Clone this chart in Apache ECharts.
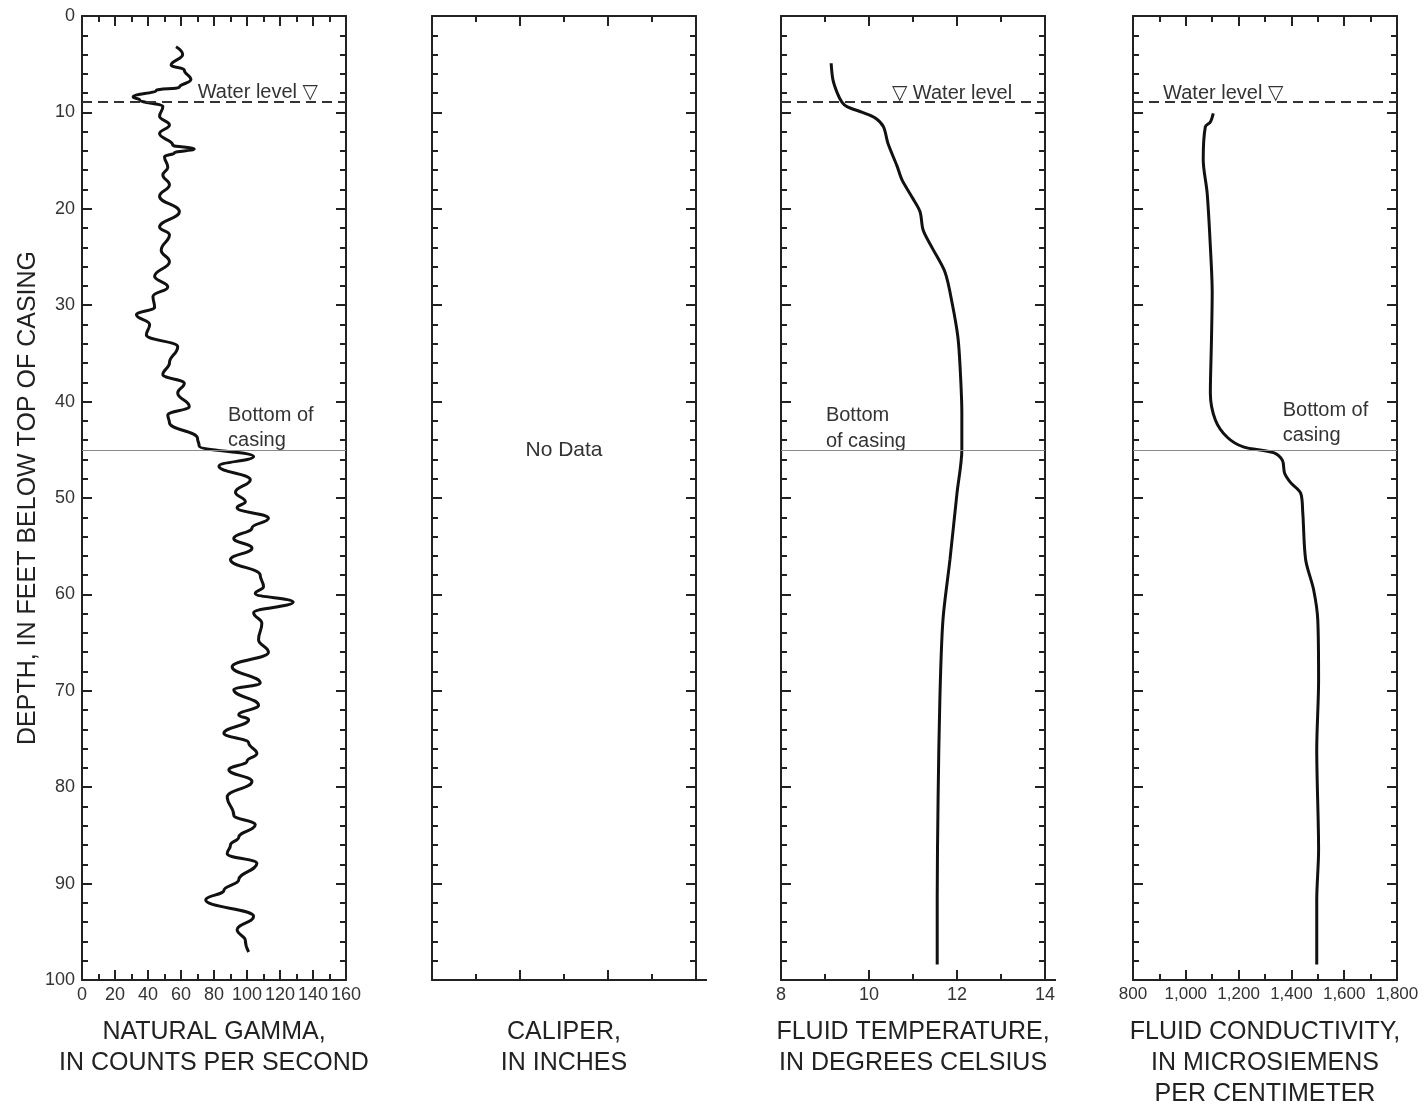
<!DOCTYPE html>
<html>
<head>
<meta charset="utf-8">
<script src="https://cdn.jsdelivr.net/npm/echarts@6/dist/echarts.min.js"></script>
<style>
html,body{margin:0;padding:0;background:#fff;}
#chart{width:1424px;height:1112px;}
</style>
</head>
<body>
<div id="chart"></div>
<script>
// ---- Data (depth in feet below top of casing) ----
const gammaDepth = [3.2,4.0,5.1,5.6,6.6,7.4,7.7,8.4,8.7,9.4,10.4,11.3,12.2,13.4,13.8,14.2,14.6,15.7,16.5,17.5,18.7,20.3,21.9,22.7,24.3,25.5,27.0,28.1,29.1,30.2,31.0,32.0,33.1,34.3,36.0,37.2,38.1,39.1,40.5,41.4,42.2,43.8,44.6,45.7,46.7,48.1,49.4,50.4,51.0,52.1,53.1,54.2,55.2,56.4,58.0,59.2,59.9,60.8,61.9,63.0,64.7,66.0,67.5,69.2,69.9,71.5,72.5,73.0,74.4,75.4,76.5,77.3,78.2,79.4,81.0,82.9,83.9,85.2,86.0,86.9,87.9,89.6,90.7,91.7,93.4,94.8,95.9,97.1];
const gammaCps   = [57,61,54,62,66,59,45,31,35,49,47,53,47,55,68,56,50,52,49,53,47,59,47,53,48,53,44,52,43,44,33,41,39,58,53,49,62,58,65,52,53,70,71,104,83,102,93,99,94,113,103,92,103,90,108,110,105,128,104,109,107,113,91,108,92,107,95,101,86,101,106,100,89,103,88,92,105,95,90,88,106,95,86,75,104,94,99,101];

const tempDepth = [4.9,6.6,8.0,8.9,9.4,10.0,10.6,11.5,13.2,15.6,17.0,18.8,20.3,22.2,24.0,26.6,29.8,33.3,36.4,41.2,45.0,49.5,56.4,62.7,71.0,81.3,91.7,98.4];
const tempC     = [9.14,9.18,9.28,9.38,9.5,9.85,10.15,10.33,10.43,10.64,10.75,10.98,11.16,11.23,11.43,11.73,11.89,12.02,12.07,12.11,12.11,12.0,11.84,11.68,11.61,11.57,11.55,11.55];

const condDepth = [10.1,11.0,11.5,14.9,18.4,23.9,28.7,33.9,39.1,41.9,43.7,44.7,45.3,46.1,47.4,48.4,49.5,51.5,56.4,59.5,62.7,68.9,76.1,86.5,91.7,98.4];
const condUS    = [1104,1093,1074,1066,1081,1093,1100,1097,1093,1112,1157,1218,1332,1366,1374,1397,1435,1443,1454,1484,1500,1503,1496,1503,1496,1496];

const waterLevelDepth = 8.9;
const casingBottomDepth = 45;

const depthTicks = [0,10,20,30,40,50,60,70,80,90,100];
const gammaTicks = [0,20,40,60,80,100,120,140,160];
const caliperTicks = [0,2,4,6];
const tempTicks = [8,10,12,14];
const condTicks = [800,1000,1200,1400,1600,1800];

const panelTitles = [
  'NATURAL GAMMA,\nIN COUNTS PER SECOND',
  'CALIPER,\nIN INCHES',
  'FLUID TEMPERATURE,\nIN DEGREES CELSIUS',
  'FLUID CONDUCTIVITY,\nIN MICROSIEMENS\nPER CENTIMETER'
];
const depthTitle = 'DEPTH, IN FEET BELOW TOP OF CASING';

// ---- Layout ----
const FONT = '"Liberation Sans", "DejaVu Sans", sans-serif';
const INK = '#222';
const panelLeft = [82, 432, 781, 1133];
const panelW = 264, panelTop = 16, panelH = 964;
const axisSpecs = [
  {ticks: gammaTicks, labels: true, fmt: v => String(v), fs: 18},
  {ticks: caliperTicks, labels: false, fmt: v => String(v), fs: 18},
  {ticks: tempTicks, labels: true, fmt: v => String(v), fs: 18},
  {ticks: condTicks, labels: true, fmt: v => v.toLocaleString('en-US'), fs: 17}
];

const lineStyleAxis = {color: INK, width: 2};
const grids = [], xAxes = [], yAxes = [];
axisSpecs.forEach((s, i) => {
  grids.push({left: panelLeft[i], top: panelTop, width: panelW, height: panelH, containLabel: false, outerBoundsMode: 'none'});
  const t = s.ticks;
  const base = {
    type: 'value', gridIndex: i, min: t[0], max: t[t.length-1], interval: t[1]-t[0],
    axisLine: {show: true, onZero: false, lineStyle: lineStyleAxis},
    axisTick: {show: true, inside: true, length: 10, lineStyle: lineStyleAxis},
    minorTick: {show: true, splitNumber: 2, length: 6, lineStyle: lineStyleAxis},
    splitLine: {show: false}, minorSplitLine: {show: false}
  };
  xAxes.push(Object.assign({}, base, {
    position: 'bottom',
    axisLabel: {show: s.labels, formatter: s.fmt, fontFamily: FONT, fontSize: s.fs, color: '#333', margin: 6, hideOverlap: false},
    name: panelTitles[i], nameLocation: 'middle', nameGap: 37,
    nameTextStyle: {fontFamily: FONT, fontSize: 25, color: INK, lineHeight: 31, align: 'center', verticalAlign: 'top'}
  }));
  xAxes.push(Object.assign({}, base, {position: 'top', axisLabel: {show: false}}));
  const ybase = {
    type: 'value', gridIndex: i, inverse: true, min: depthTicks[0], max: depthTicks[depthTicks.length-1],
    interval: depthTicks[1]-depthTicks[0],
    axisLine: {show: true, onZero: false, lineStyle: lineStyleAxis},
    axisTick: {show: true, inside: true, length: 10, lineStyle: lineStyleAxis},
    minorTick: {show: true, splitNumber: 5, length: 6, lineStyle: lineStyleAxis},
    splitLine: {show: false}, minorSplitLine: {show: false}
  };
  yAxes.push(Object.assign({}, ybase, {
    position: 'left',
    axisLabel: {show: i === 0, fontFamily: FONT, fontSize: 18, color: '#333', margin: 7},
    name: i === 0 ? depthTitle : '', nameLocation: 'middle', nameGap: 39, nameRotate: 90,
    nameTextStyle: {fontFamily: FONT, fontSize: 25, color: INK}
  }));
  yAxes.push(Object.assign({}, ybase, {position: 'right', axisLabel: {show: false}}));
});

function refLines(withWater) {
  const data = [];
  if (withWater) data.push({yAxis: waterLevelDepth, lineStyle: {type: [10, 6], width: 2, color: '#333'}});
  data.push({yAxis: casingBottomDepth, lineStyle: {type: 'solid', width: 1, color: '#8a8a8a'}});
  return {symbol: 'none', silent: true, label: {show: false}, data: data, animation: false};
}

const lineSeries = (i, xs, ys, smooth, mono) => ({
  type: 'line', xAxisIndex: 2*i, yAxisIndex: 2*i,
  data: xs.map((v, k) => [v, ys[k]]),
  showSymbol: false, symbol: 'none', smooth: smooth, smoothMonotone: mono,
  lineStyle: {color: '#111', width: 3},
  markLine: refLines(true), z: 3
});

const series = [
  lineSeries(0, gammaCps, gammaDepth, 0.45, 'y'),
  {type: 'line', xAxisIndex: 2, yAxisIndex: 2, data: [], showSymbol: false},
  lineSeries(2, tempC, tempDepth, 0.3, null),
  lineSeries(3, condUS, condDepth, 0.3, null)
];

const chart = echarts.init(document.getElementById('chart'), null, {renderer: 'canvas'});
chart.setOption({
  backgroundColor: '#fff',
  animation: false,
  grid: grids, xAxis: xAxes, yAxis: yAxes, series: series
});

// ---- Text annotations placed through the axes' scales ----
const notes = [
  {g: 0, x: 143, y: 7.9, text: 'Water level \u25BD', align: 'right'},
  {g: 0, x: 88.5, y: 41.4, text: 'Bottom of', align: 'left'},
  {g: 0, x: 88.5, y: 44.0, text: 'casing', align: 'left'},
  {g: 1, x: 3.0, y: 45.0, text: 'No Data', align: 'center', fs: 21},
  {g: 2, x: 10.52, y: 8.0, text: '\u25BD Water level', align: 'left'},
  {g: 2, x: 9.02, y: 41.4, text: 'Bottom', align: 'left'},
  {g: 2, x: 9.02, y: 44.1, text: 'of casing', align: 'left'},
  {g: 3, x: 914, y: 8.0, text: 'Water level \u25BD', align: 'left'},
  {g: 3, x: 1367, y: 40.9, text: 'Bottom of', align: 'left'},
  {g: 3, x: 1367, y: 43.5, text: 'casing', align: 'left'}
];
const graphics = notes.map(n => {
  const p = chart.convertToPixel({gridIndex: n.g}, [n.x, n.y]);
  return {
    type: 'text', x: p[0], y: p[1], silent: true,
    style: {text: n.text, fill: '#333', font: (n.fs || 20) + 'px ' + FONT, textAlign: n.align, textVerticalAlign: 'middle'}
  };
});
// small overhang of the bottom axis line past the right edge (panels 2 and 3)
[[1, caliperTicks], [2, tempTicks]].forEach(([g, t]) => {
  const p = chart.convertToPixel({gridIndex: g}, [t[t.length-1], depthTicks[depthTicks.length-1]]);
  graphics.push({type: 'line', silent: true, shape: {x1: p[0], y1: p[1], x2: p[0] + 11, y2: p[1]},
    style: {stroke: INK, lineWidth: 2}});
});
chart.setOption({graphic: graphics});
</script>
</body>
</html>
